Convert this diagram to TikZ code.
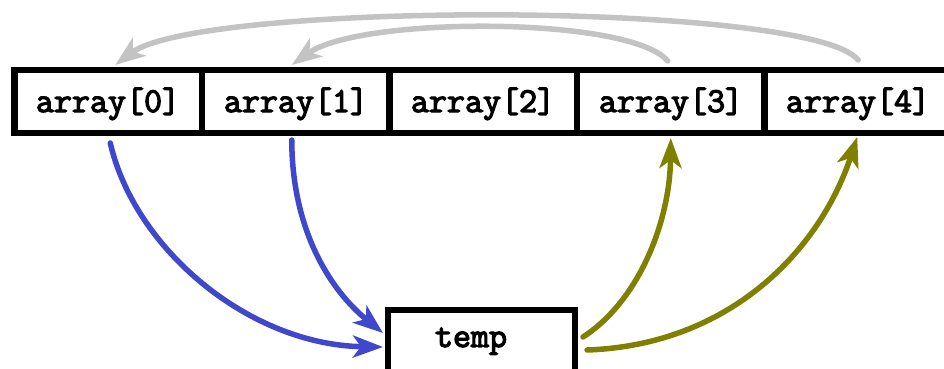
\documentclass[tikz,border=0pt]{standalone}
\usepackage{fontspec}
\newfontfamily\cellfont{Latin Modern Mono}[BoldFont={Latin Modern Mono},BoldFeatures={FakeBold=3.5}]
\usetikzlibrary{arrows.meta}
\definecolor{arrgray}{RGB}{195,195,195}
\definecolor{arrblue}{RGB}{63,72,204}
\definecolor{arrolive}{RGB}{128,128,0}
\tikzset{
  cellbox/.style={draw=black,line width=6.5pt,minimum width=187.5pt,minimum height=63pt,inner sep=0pt,outer sep=0pt},
  celltext/.style={font=\fontsize{35}{35}\selectfont\cellfont\bfseries,anchor=base,inner sep=0pt},
  conn/.style={line width=5.5pt,line cap=round,-{Stealth[length=30pt,width=22pt,inset=8pt]}},
  grayconn/.style={conn,draw=arrgray},
  blueconn/.style={conn,draw=arrblue},
  oliveconn/.style={conn,draw=arrolive},
}
\begin{document}
\begin{tikzpicture}[x=1pt,y=-1pt]
\useasboundingbox (0,0) rectangle (944,369);
\clip (0,0) rectangle (944,369);
% array cells
\node[cellbox] (c0) at (108.25,101.5) {};
\node[cellbox] (c1) at (295.75,101.5) {};
\node[cellbox] (c2) at (483.25,101.5) {};
\node[cellbox] (c3) at (670.75,101.5) {};
\node[cellbox] (c4) at (858.25,101.5) {};
\node[celltext] (t0) at (108,112) {array[0]};
\node[celltext] (t1) at (296,112) {array[1]};
\node[celltext] (t2) at (483,112) {array[2]};
\node[celltext] (t3) at (671,112) {array[3]};
\node[celltext] (t4) at (858,112) {array[4]};
% temp box
\node[cellbox,minimum width=187pt] (temp) at (481.5,341.5) {};
\node[celltext] (tt) at (471,347) {temp};
% gray arrows
\draw[grayconn] ([shift={(0,-10)}]c4.north) .. controls (810,1) and (200,1) .. ([shift={(7,-5)}]c0.north);
\draw[grayconn] ([shift={(-3,-9)}]c3.north) .. controls (630,16) and (360,16) .. ([shift={(-4,-5)}]c1.north);
% blue arrows
\draw[blueconn] ([shift={(2,10)}]c0.south) .. controls (135,250) and (250,345) .. ([shift={(-5,5.5)}]temp.west);
\draw[blueconn] ([shift={(-4,7)}]c1.south) .. controls (292,230) and (330,290) .. ([shift={(-5,-8.5)}]temp.west);
% olive arrows
\draw[oliveconn] ([shift={(8,-4.5)}]temp.east) .. controls (640,300) and (670,220) .. ([shift={(0,5)}]c3.south);
\draw[oliveconn] ([shift={(12,8.5)}]temp.east) .. controls (730,345) and (820,250) .. ([shift={(-1,4)}]c4.south);
\end{tikzpicture}
\end{document}
